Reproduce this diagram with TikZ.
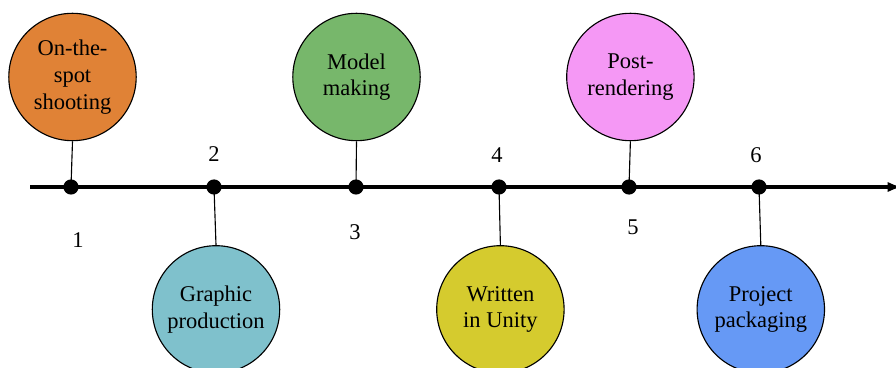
\documentclass[tikz,border=0pt]{standalone}
\usepackage{fontspec}
\setmainfont{Liberation Serif}
\newfontfamily\timesfont{Liberation Serif}
\usetikzlibrary{arrows.meta,positioning}

\definecolor{cOrange}{HTML}{E08236}
\definecolor{cCyan}{HTML}{7FC1CC}
\definecolor{cGreen}{HTML}{77B76B}
\definecolor{cYellow}{HTML}{D5CB2E}
\definecolor{cPink}{HTML}{F598F5}
\definecolor{cBlue}{HTML}{6699F5}

\begin{document}
\begin{tikzpicture}[
    >={Latex[length=3.6mm, width=2.6mm]},
    stage/.style={circle, draw, line width=0.8pt, minimum size=3.185cm, inner sep=0pt, align=center,
                  font=\timesfont\fontsize{16}{19}\selectfont},
    dot/.style={circle, fill=black, minimum size=0.38cm, inner sep=0pt},
    num/.style={font=\timesfont\fontsize{16}{19}\selectfont, inner sep=0pt},
    link/.style={line width=0.8pt}
]
    % --- 1. 畫布範圍 ---
    \useasboundingbox (0,0) rectangle (22.4,9.175);

    % --- 2. 時間軸 ---
    \coordinate (axisL) at (0.75,4.5);
    \coordinate (axisR) at (22.55,4.5);
    \draw[->, line width=2.6pt] (axisL) -- (axisR);

    % 軸上的點
    \foreach \i/\x in {1/1.775, 2/5.35, 3/8.9, 4/12.475, 5/15.725, 6/18.975}
        \node[dot] (d\i) at (\x,4.5) {};

    % --- 3. 各階段 (圓圈) ---
    \node[stage, fill=cOrange] (s1) at (1.8125,7.25) {On-the-\\spot\\shooting};
    \node[stage, fill=cCyan]   (s2) at (5.4,1.44)    {Graphic\\production};
    \node[stage, fill=cGreen]  (s3) at (8.9125,7.25) {Model\\making};
    \node[stage, fill=cYellow] (s4) at (12.51,1.44)  {Written\\in Unity};
    \node[stage, fill=cPink]   (s5) at (15.76,7.25)  {Post-\\rendering};
    \node[stage, fill=cBlue]   (s6) at (19.02,1.44)  {Project\\packaging};

    % --- 4. 連線 ---
    \draw[link] (s1.south) -- (d1.center);
    \draw[link] (s2.north) -- (d2.center);
    \draw[link] (s3.south) -- (d3.center);
    \draw[link] (s4.north) -- (d4.center);
    \draw[link] (s5.south) -- (d5.center);
    \draw[link] (s6.north) -- (d6.center);

    % --- 5. 編號 ---
    \node[num] (n1) at (1.95,3.175)  {1};
    \node[num] (n2) at (5.35,5.325)  {2};
    \node[num] (n3) at (8.875,3.375) {3};
    \node[num] (n4) at (12.425,5.3)  {4};
    \node[num] (n5) at (15.825,3.5)  {5};
    \node[num] (n6) at (18.9,5.3)    {6};

\end{tikzpicture}
\end{document}
